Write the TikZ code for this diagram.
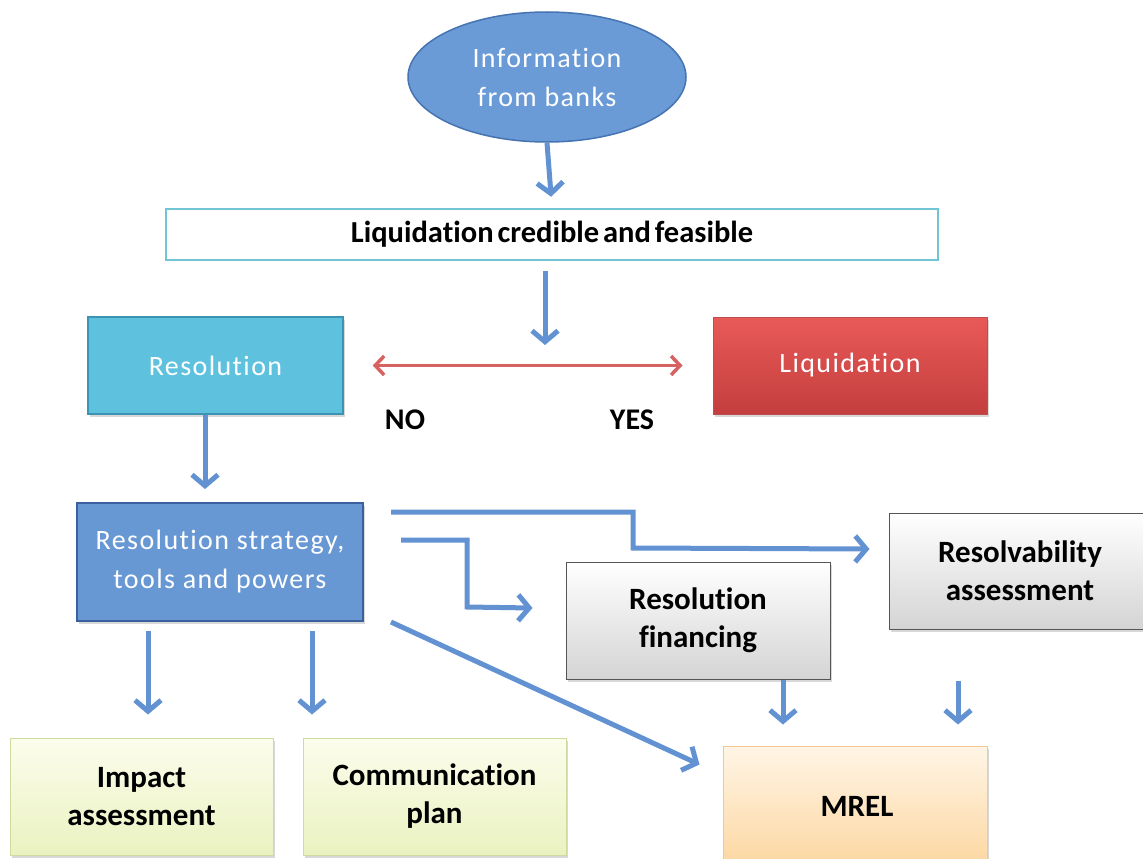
\documentclass[tikz,border=0pt]{standalone}
\usepackage{fontspec}
\setmainfont{Carlito}[Ligatures=NoCommon]
\newfontfamily\wfont[LetterSpace=5,Ligatures=NoCommon]{Carlito}
\usetikzlibrary{arrows.meta,shapes.geometric,shadows,calc}
\definecolor{arrblue}{RGB}{98,146,210}
\definecolor{elfill}{RGB}{106,155,214}
\definecolor{eldraw}{RGB}{70,115,178}
\definecolor{resfill}{RGB}{94,194,223}
\definecolor{resdraw}{RGB}{60,148,178}
\definecolor{liqtop}{RGB}{232,90,88}
\definecolor{liqbot}{RGB}{196,62,62}
\definecolor{liqdraw}{RGB}{190,78,78}
\definecolor{stfill}{RGB}{104,152,212}
\definecolor{stdraw}{RGB}{58,96,158}
\definecolor{lcfdraw}{RGB}{112,196,212}
\definecolor{redarr}{RGB}{214,98,98}
\definecolor{ylwtop}{RGB}{252,253,236}
\definecolor{ylwbot}{RGB}{234,242,192}
\definecolor{ylwdraw}{RGB}{205,218,160}
\definecolor{mreltop}{RGB}{255,245,230}
\definecolor{mrelbot}{RGB}{252,214,158}
\definecolor{mreldraw}{RGB}{244,200,142}
\definecolor{graybot}{RGB}{212,212,212}
\definecolor{graydraw}{RGB}{85,85,85}
\tikzset{
  box/.style={rectangle, inner sep=0pt, align=center, line width=1pt},
  shad/.style={drop shadow={shadow xshift=2pt, shadow yshift=-2.5pt, opacity=0.3}},
  wtext/.style={text=white, font=\wfont\fontsize{28}{39}\selectfont},
  btext/.style={text=black, font=\bfseries\fontsize{31}{38}\selectfont},
  graybox/.style={box, shad, draw=graydraw, top color=white, bottom color=graybot, btext},
  ylwbox/.style={box, shad, draw=ylwdraw, top color=ylwtop, bottom color=ylwbot, btext},
  arr/.style={draw=arrblue, line width=5pt, -{Straight Barb[length=11pt,width=26pt]}},
  redarrow/.style={draw=redarr, line width=3.5pt, {Straight Barb[length=9pt,width=19pt]}-{Straight Barb[length=9pt,width=19pt]}},
  yn/.style={font=\bfseries\fontsize{30}{34}\selectfont}
}
\begin{document}
\begin{tikzpicture}[x=1pt,y=-1pt]
\clip (0,0) rectangle (1143,859);
\fill[white] (0,0) rectangle (1143,859);

\node[ellipse, draw=eldraw, line width=1.5pt, fill=elfill, minimum width=278pt, minimum height=130pt, inner sep=0pt, align=center, wtext] (info) at (547,77) {Information\\from banks};

\node[box, draw=lcfdraw, line width=2.5pt, fill=white, minimum width=772pt, minimum height=51pt, font=\bfseries\fontsize{30.5}{33}\selectfont] (lcf) at (552,234.5) {Liquidation\hspace{-3pt} credible\hspace{-3pt} and\hspace{-3pt} feasible};

\node[box, shad, draw=resdraw, line width=1.5pt, fill=resfill, minimum width=255pt, minimum height=97pt, wtext] (res) at (215.5,365.5) {Resolution};

\node[box, shad, draw=liqdraw, line width=1pt, top color=liqtop, bottom color=liqbot, minimum width=274pt, minimum height=97pt, wtext] (liq) at (850,365.5) {Liquidation};

\coordinate (split) at (545,366);

\node[yn] (no) at (405,420) {NO};
\node[yn] (yes) at (632,420) {YES};

\node[box, shad, draw=stdraw, line width=2pt, fill=stfill, minimum width=286pt, minimum height=118pt, wtext] (strat) at (220,562) {Resolution strategy,\\tools and powers};

\node[ylwbox, minimum width=263pt, minimum height=117pt] (imp) at (141.5,796.5) {Impact\\assessment};
\node[ylwbox, minimum width=263pt, minimum height=117pt] (comm) at (434.5,796.5) {Communication\\plan};

\node[graybox, minimum width=264pt, minimum height=117pt] (fin) at (698,620.5) {Resolution\\financing};
\node[graybox, minimum width=262pt, minimum height=116pt] (resv) at (1020,571) {Resolvability\\assessment};

\node[box, shad, draw=mreldraw, line width=1pt, top color=mreltop, bottom color=mrelbot, minimum width=264pt, minimum height=125pt, btext] (mrel) at (855,808.5) {};
\node[btext] (mreltext) at (857,806) {MREL};

% connectors
\draw[arr, shorten >=11pt] (info.south) -- (lcf.north);
\draw[arr, shorten <=10pt, shorten >=21pt] (lcf.south -| split) -- (split);
\draw[redarrow, shorten <=29pt, shorten >=30pt] (res.east) -- (liq.west);
\draw[arr, shorten >=13pt] ([xshift=-10.5pt]res.south) -- ([xshift=-10.5pt]res.south |- strat.north);

\draw[arr, shorten <=9pt, shorten >=23pt] ([xshift=6.5pt]imp.north |- strat.south) -- ([xshift=6.5pt]imp.north);
\draw[arr, shorten <=9pt, shorten >=23pt] ([xshift=-122.5pt]comm.north |- strat.south) -- ([xshift=-122.5pt]comm.north);

\draw[arr, line join=miter] ([xshift=27pt,yshift=-10pt]strat.north east) -- ++(242,0) -- ++(0,36) -- ([xshift=-19pt,yshift=22pt]resv.west);
\draw[arr, line join=miter] ([xshift=37pt,yshift=-38pt]strat.north east) -- ++(66,0) -- ++(0,67) -- ([xshift=-33pt,yshift=12.5pt]fin.west);
\draw[arr] ([xshift=27pt]strat.south east) -- ([xshift=-23pt,yshift=-19pt]mrel.north west);

\draw[arr, shorten >=21pt] ([xshift=85pt]fin.south) -- ([xshift=85pt]fin.south |- mrel.north);
\draw[arr, shorten <=51pt, shorten >=21pt] ([xshift=-62pt]resv.south) -- ([xshift=-62pt]resv.south |- mrel.north);
\end{tikzpicture}
\end{document}
